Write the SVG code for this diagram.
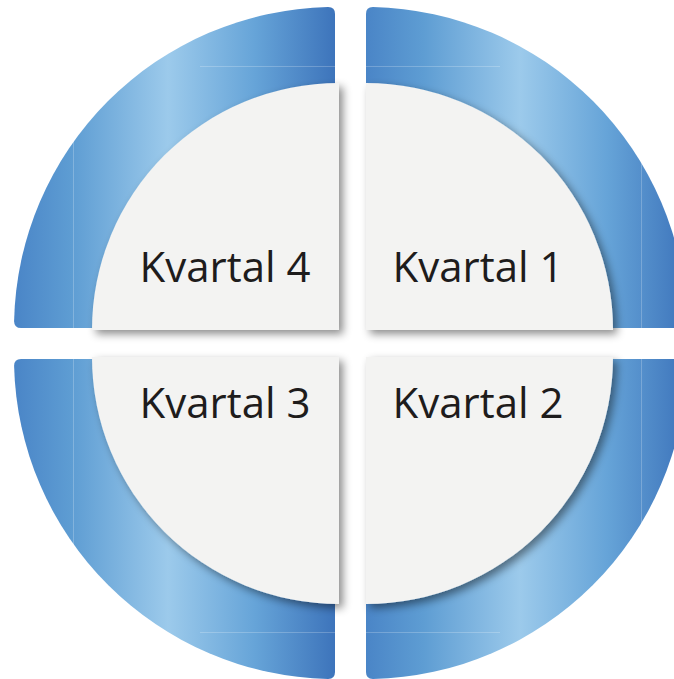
<svg xmlns="http://www.w3.org/2000/svg" width="674" height="679" viewBox="0 0 674 679">
<defs>
<linearGradient id="gL" gradientUnits="userSpaceOnUse" x1="14" y1="0" x2="335" y2="0">
<stop offset="0" stop-color="#4a85c7"/>
<stop offset="0.18" stop-color="#5e9dd3"/>
<stop offset="0.48" stop-color="#9ccaeb"/>
<stop offset="0.75" stop-color="#66a4d8"/>
<stop offset="1" stop-color="#3d74bb"/>
</linearGradient>
<linearGradient id="gR" gradientUnits="userSpaceOnUse" x1="366" y1="0" x2="687" y2="0">
<stop offset="0" stop-color="#4a85c7"/>
<stop offset="0.18" stop-color="#5e9dd3"/>
<stop offset="0.48" stop-color="#9ccaeb"/>
<stop offset="0.75" stop-color="#66a4d8"/>
<stop offset="1" stop-color="#3d74bb"/>
</linearGradient>
<filter id="sh" x="-10%" y="-10%" width="130%" height="130%">
<feGaussianBlur in="SourceAlpha" stdDeviation="4.5"/>
<feOffset dx="4" dy="4" result="b"/>
<feFlood flood-color="#000" flood-opacity="0.45"/>
<feComposite in2="b" operator="in"/>
<feMerge><feMergeNode/><feMergeNode in="SourceGraphic"/></feMerge>
</filter>
</defs>
<style>
.grey{fill:#f3f3f2;filter:url(#sh)}
.lbl{font-family:"Open Sans","Noto Sans","Liberation Sans",sans-serif;font-size:42px;fill:#1e1c1c;text-anchor:middle}
.seam{stroke:#ffffff;stroke-opacity:0.22;stroke-width:1;fill:none}
</style>
<g id="ring">
<path id="ringTL" fill="url(#gL)" d="M335,328 L21,328 Q14,328 14.1,321 A321,321 0 0 1 328,7.1 Q335,7 335,14 Z"/>
<path id="ringTR" fill="url(#gR)" d="M366,328 L366,14 Q366,7 373,7.1 A321,321 0 0 1 686.9,321 Q687,328 680,328 Z"/>
<path id="ringBL" fill="url(#gL)" d="M335,359 L335,672 Q335,679 328,678.9 A321,321 0 0 1 14.1,366 Q14,359 21,359 Z"/>
<path id="ringBR" fill="url(#gR)" d="M366,359 L680,359 Q687,359 686.9,366 A321,321 0 0 1 373,678.9 Q366,679 366,672 Z"/>
<path class="seam" d="M73.5,130 V328 M73.5,359 V560 M641.5,130 V328 M641.5,359 V560 M200,66.5 H335 M366,66.5 H500 M200,632.5 H335 M366,632.5 H500"/>
</g>
<g id="q4">
<path class="grey" d="M339,330 L92,330 A247,247 0 0 1 339,83 Z"/>
<text class="lbl" x="225" y="282">Kvartal 4</text>
</g>
<g id="q1">
<path class="grey" d="M366,330 L366,83 A247,247 0 0 1 613,330 Z"/>
<text class="lbl" x="478" y="282">Kvartal 1</text>
</g>
<g id="q3">
<path class="grey" d="M339,357 L339,604 A247,247 0 0 1 92,357 Z"/>
<text class="lbl" x="225" y="418">Kvartal 3</text>
</g>
<g id="q2">
<path class="grey" d="M366,357 L613,357 A247,247 0 0 1 366,604 Z"/>
<text class="lbl" x="478" y="418">Kvartal 2</text>
</g>
<g id="connectors"/>
</svg>
